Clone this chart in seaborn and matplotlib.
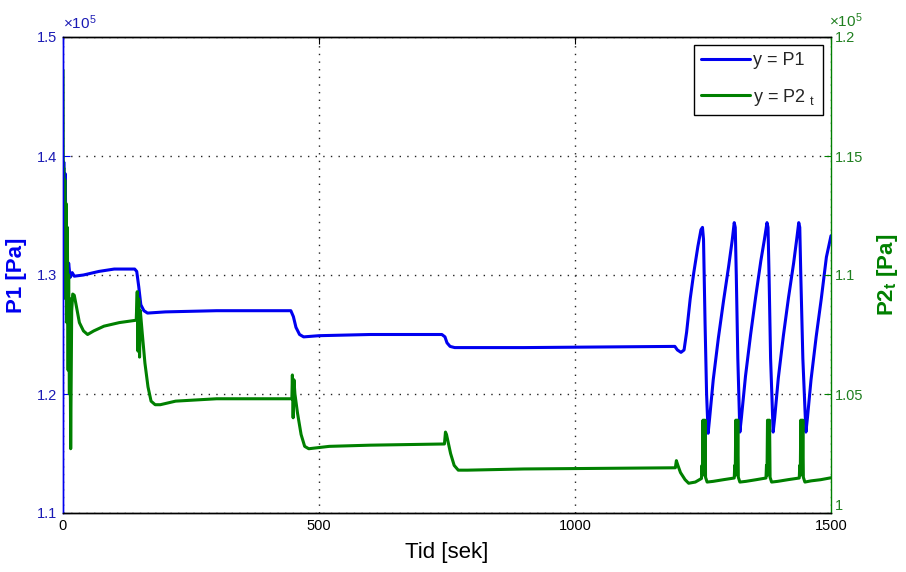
import numpy as np
import pandas as pd
import matplotlib
matplotlib.use("Agg")
import matplotlib.pyplot as plt
import seaborn as sns

# ---------------- data (values in units of 1e5 Pa) ----------------
t_p1 = [0, 1.5, 3, 4.5, 6, 7.5, 9, 11, 14, 18, 22, 40, 70, 100, 140, 144, 148, 152,
        158, 165, 200, 300, 445, 450, 455, 462, 470, 500, 600, 740, 746, 750, 756,
        765, 900, 1195, 1200, 1207, 1213, 1218, 1225, 1232, 1240, 1246, 1249, 1251,
        1254, 1257, 1260,
        1263, 1270, 1280, 1290, 1300, 1307, 1311, 1313, 1315, 1318, 1322,
        1325, 1333, 1343, 1353, 1363, 1370, 1375, 1377, 1379, 1382, 1387,
        1390, 1397, 1407, 1417, 1427, 1433, 1437, 1439, 1441, 1445, 1451,
        1454, 1461, 1471, 1481, 1491, 1500]
p1 = [1.33, 1.395, 1.36, 1.385, 1.30, 1.34, 1.292, 1.31, 1.298, 1.302, 1.299, 1.300,
      1.303, 1.305, 1.305, 1.303, 1.29, 1.275, 1.270, 1.268, 1.269, 1.270, 1.270,
      1.265, 1.256, 1.250, 1.248, 1.249, 1.250, 1.250, 1.248, 1.243, 1.240, 1.239,
      1.239, 1.240, 1.237, 1.235, 1.237, 1.252, 1.280, 1.302, 1.324, 1.338, 1.340,
      1.330, 1.26, 1.20, 1.167,
      1.18, 1.212, 1.247, 1.278, 1.307, 1.329, 1.344, 1.340, 1.30, 1.23, 1.168,
      1.18, 1.215, 1.250, 1.282, 1.312, 1.330, 1.344, 1.340, 1.30, 1.23, 1.168,
      1.18, 1.213, 1.249, 1.281, 1.310, 1.330, 1.344, 1.340, 1.30, 1.23, 1.168,
      1.18, 1.212, 1.248, 1.280, 1.315, 1.333]

t_p2 = [0, 0.5, 1.5, 2.5, 3.5, 5, 6, 7.5, 8.5, 10, 11, 12.5, 13.5, 15, 17, 19, 22, 26,
        32, 40, 48, 60, 80, 110, 143, 145, 146.5, 148, 149.5, 151, 155, 160, 166, 172,
        180, 190, 220, 300, 447, 448, 449.5, 451, 453, 458, 465, 472, 480, 520, 600,
        745, 747, 749, 752, 757, 764, 772, 790, 900, 1196, 1198, 1201, 1206, 1215,
        1222, 1235, 1247,
        1248, 1249, 1250, 1251, 1252, 1253, 1254, 1255, 1258, 1270, 1290, 1311,
        1312, 1313, 1314, 1315, 1316, 1317, 1318, 1319, 1322, 1334, 1354, 1373,
        1374, 1375, 1376, 1377, 1378, 1379, 1380, 1381, 1384, 1396, 1416, 1438,
        1439, 1440, 1441, 1442, 1443, 1444, 1445, 1446, 1449, 1461, 1480, 1500]
p2 = [1.186, 1.14, 1.145, 1.10, 1.14, 1.09, 1.13, 1.08, 1.12, 1.06, 1.10, 1.05, 1.09,
      1.027, 1.085, 1.092, 1.0915, 1.087, 1.08, 1.0765, 1.075, 1.0765, 1.0785, 1.080,
      1.081, 1.093, 1.068, 1.09, 1.0655, 1.085, 1.075, 1.063, 1.053, 1.047, 1.0455,
      1.0455, 1.047, 1.048, 1.048, 1.058, 1.040, 1.056, 1.050, 1.042, 1.033, 1.028,
      1.027, 1.028, 1.0285, 1.029, 1.034, 1.033, 1.030, 1.025, 1.020, 1.018, 1.018,
      1.0185, 1.019, 1.022, 1.020, 1.017, 1.014, 1.0125, 1.013, 1.0145,
      1.020, 1.016, 1.039, 1.016, 1.039, 1.017, 1.039, 1.015, 1.013, 1.0133, 1.014, 1.0147,
      1.020, 1.016, 1.039, 1.016, 1.039, 1.017, 1.039, 1.015, 1.013, 1.0133, 1.014, 1.0147,
      1.020, 1.016, 1.039, 1.016, 1.039, 1.017, 1.039, 1.015, 1.013, 1.0133, 1.014, 1.0147,
      1.020, 1.016, 1.039, 1.016, 1.039, 1.017, 1.039, 1.015, 1.013, 1.0135, 1.014, 1.0148]

x_ticks = [0, 500, 1000, 1500]
x_labels = ["0", "500", "1000", "1500"]
y1_ticks = [1.1, 1.2, 1.3, 1.4, 1.5]
y1_labels = ["1.1", "1.2", "1.3", "1.4", "1.5"]
y2_ticks = [1.0, 1.05, 1.1, 1.15, 1.2]
y2_labels = ["1", "1.05", "1.1", "1.15", "1.2"]

# ---------------- style ----------------
sns.set_style("white")
plt.rcParams["font.family"] = ["Liberation Sans", "DejaVu Sans"]
plt.rcParams["mathtext.fontset"] = "custom"
plt.rcParams["mathtext.rm"] = "Liberation Sans"
plt.rcParams["mathtext.it"] = "Liberation Sans:italic"
plt.rcParams["mathtext.bf"] = "Liberation Sans:bold"

BLUE = "#0000f0"
GREEN = "#008000"
BLUE_TXT = "#1a1ab4"
GREEN_TXT = "#1f7f1f"

fig = plt.figure(figsize=(9.06, 5.72), dpi=100)
ax = fig.add_axes([63 / 906, 59 / 572, 768 / 906, 476 / 572])
ax2 = ax.twinx()

df1 = pd.DataFrame({"t": t_p1, "P1": p1})
df2 = pd.DataFrame({"t": t_p2, "P2": p2})
sns.lineplot(data=df1, x="t", y="P1", ax=ax, color=BLUE, lw=2.2,
             estimator=None, sort=False, legend=False)
sns.lineplot(data=df2, x="t", y="P2", ax=ax2, color=GREEN, lw=2.2,
             estimator=None, sort=False, legend=False)

ax.set_xlim(0, 1500)
ax.set_ylim(1.1, 1.5)
ax2.set_ylim(1.0, 1.2)

ax.set_xticks(x_ticks)
ax.set_xticklabels(x_labels)
ax.set_yticks(y1_ticks)
ax.set_yticklabels(y1_labels)
ax2.set_yticks(y2_ticks)
ax2.set_yticklabels(y2_labels)

ax.tick_params(axis="x", direction="in", length=5, width=0.8, top=True,
               labelsize=10.5, colors="black", pad=4)
ax.tick_params(axis="y", direction="in", length=5, width=0.8,
               labelsize=10.5, colors=BLUE, labelcolor=BLUE_TXT, pad=4)
ax2.tick_params(axis="y", direction="in", length=5, width=0.8,
                labelsize=10.5, colors=GREEN, labelcolor=GREEN_TXT, pad=3)
# nudge right-axis bottom label up like the reference
ax2.get_yticklabels()[0].set_verticalalignment("bottom")

ax.grid(True, linestyle=(0, (1, 4.5)), color="#222222", lw=1.0)

for a in (ax, ax2):
    a.spines["top"].set_color("black")
    a.spines["bottom"].set_color("black")
    for s in a.spines.values():
        s.set_linewidth(1.0)
ax.spines["left"].set_color(BLUE)
ax2.spines["left"].set_color(BLUE)
ax.spines["right"].set_visible(False)
ax2.spines["right"].set_color(GREEN)

ax.set_xlabel("Tid [sek]", fontsize=16, color="black", labelpad=7)
ax.set_ylabel("P1 [Pa]", fontsize=16, fontweight="bold", color=BLUE, labelpad=7)
ax2.set_ylabel(r"P2$_\mathbf{t}$ [Pa]", fontsize=16, fontweight="bold",
               color=GREEN, labelpad=8)

ax.text(0.0, 1.01, r"$\times10^{5}$", transform=ax.transAxes, color=BLUE_TXT,
        fontsize=11, ha="left", va="bottom")
ax2.text(0.998, 1.014, r"$\times10^{5}$", transform=ax2.transAxes, color=GREEN_TXT,
         fontsize=11, ha="left", va="bottom")

h1 = ax.get_lines()[0]
h2 = ax2.get_lines()[0]
leg = ax2.legend([h1, h2], ["y = P1", r"y = P2 ${}_{\mathrm{t}}$"], loc="upper right",
                 fontsize=13, frameon=True, fancybox=False, edgecolor="black",
                 framealpha=1, handlelength=2.7, handletextpad=0.2,
                 labelspacing=0.95, borderpad=0.4, borderaxespad=0.45)
leg.get_frame().set_linewidth(1.0)

fig.savefig("out.png", dpi=100)
